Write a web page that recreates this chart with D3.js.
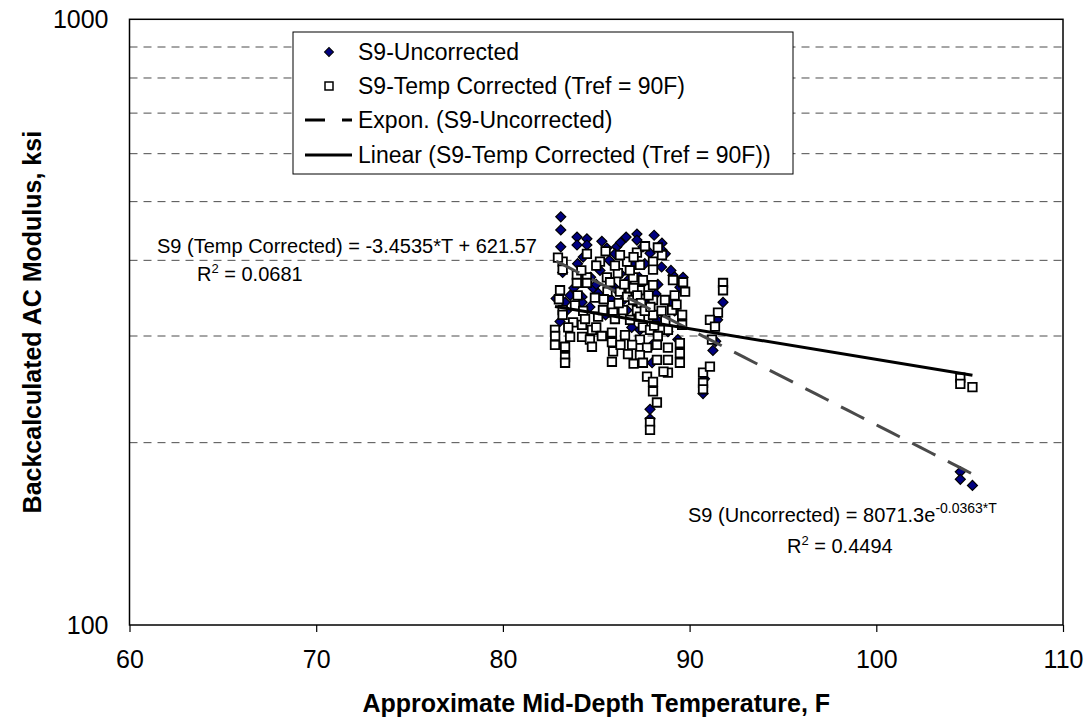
<!DOCTYPE html>
<html>
<head>
<meta charset="utf-8">
<script src="https://cdn.jsdelivr.net/npm/d3@7"></script>
<style>
  body { margin: 0; background: #fff; }
  svg text { font-family: Arial, "Liberation Sans", sans-serif; fill: #000; }
</style>
</head>
<body>
<div id="chart"></div>
<script>

// Axis Ticks And Gridlines
var xTicks = [60, 70, 80, 90, 100, 110];
var yTicks = [100, 1000];
var yGrid = [200, 300, 400, 500, 600, 700, 800, 900];

// S9-Uncorrected [Temperature F, Modulus ksi]
var uncorrected = [
  [83.1, 472], [83.1, 449], [83.1, 421], [83.97, 437], [84.5, 434], [83.97, 424], [84.5, 424],
  [85.57, 419], [86.1, 421], [86.6, 437], [87.18, 442], [87.18, 432], [86.0, 410], [87.5, 421],
  [87.88, 411], [88.52, 427], [88.52, 416], [83.2, 382], [82.85, 346], [83.6, 350], [84.24, 348],
  [84.24, 341], [85.1, 353], [84.83, 360], [84.66, 335], [83.33, 341], [83.06, 317], [86.7, 371],
  [87.5, 367], [87.99, 271], [87.88, 227], [87.88, 219], [89.11, 378], [89.65, 375], [89.06, 341],
  [91.79, 341], [91.25, 284], [90.72, 241], [89.48, 361], [86.65, 331], [88.25, 319], [88.84, 305],
  [89.37, 296], [91.5, 319], [91.4, 294], [87.34, 307], [88.04, 307], [85.8, 345], [86.3, 380],
  [87.0, 395], [85.2, 385], [84.0, 395], [88.2, 352], [87.6, 340], [86.0, 360], [84.7, 375],
  [83.8, 360], [88.5, 390], [89.0, 385], [85.5, 325], [86.9, 310], [83.4, 330], [88.0, 290],
  [85.3, 430], [86.3, 428], [88.1, 440], [87.6, 395], [85.7, 400], [84.3, 405], [86.5, 345],
  [87.3, 375], [88.3, 365], [89.2, 330], [90.8, 255], [88.7, 410], [85.0, 365],
  [104.5, 179], [104.5, 174], [105.15, 170]
];

// S9-Temp Corrected (Tref = 90F) [Temperature F, Modulus ksi]
var corrected = [
  [83.2, 398], [83.2, 386], [83.96, 378], [84.5, 375], [83.96, 367], [84.5, 367], [85.57, 375],
  [83.06, 357], [83.2, 331], [83.2, 325], [83.76, 316], [84.24, 313], [84.24, 299], [83.6, 299],
  [83.33, 288], [82.79, 290], [83.33, 277], [83.33, 271], [84.66, 296], [84.77, 288], [85.84, 337],
  [85.9, 328], [85.84, 304], [85.84, 293], [85.9, 283], [85.84, 272], [85.1, 323], [86.16, 381],
  [86.65, 398], [86.97, 375], [87.34, 393], [87.5, 371], [87.34, 357], [86.27, 355], [86.65, 348],
  [86.43, 331], [86.97, 344], [87.18, 331], [87.34, 323], [87.5, 310], [87.88, 307], [87.34, 296],
  [87.72, 287], [87.34, 279], [87.5, 271], [87.72, 257], [88.04, 252], [88.04, 243], [87.88, 216],
  [87.88, 210], [87.18, 412], [88.04, 398], [88.52, 408], [89.11, 371], [89.65, 368], [89.76, 355],
  [89.06, 331], [89.6, 325], [89.6, 313], [88.84, 307], [88.84, 287], [89.48, 292], [89.48, 281],
  [89.48, 271], [88.84, 274], [88.84, 261], [90.72, 261], [91.09, 267], [90.72, 251], [90.72, 245],
  [91.79, 367], [91.79, 357], [91.52, 328], [91.09, 319], [91.36, 311], [91.2, 296], [88.04, 386],
  [88.04, 364], [88.04, 344], [88.04, 325], [88.25, 290], [88.25, 274], [88.25, 233], [85.2, 398],
  [85.74, 368], [84.93, 347], [85.36, 331], [86.81, 319], [86.54, 301], [86.92, 290], [88.41, 307],
  [82.95, 404], [84.77, 307], [82.79, 307], [83.86, 337], [86.27, 408], [87.61, 422], [88.68, 344],
  [86.81, 360], [84.5, 410], [85.5, 414],
  [84.0, 350], [84.3, 330], [85.0, 310], [85.3, 300], [85.6, 355], [86.0, 320], [86.2, 340],
  [86.5, 365], [86.8, 385], [87.0, 360], [87.2, 350], [87.4, 340], [87.6, 330], [87.8, 350],
  [87.9, 335], [88.1, 312], [88.3, 300], [88.5, 330], [88.7, 318], [89.2, 350], [89.3, 338],
  [85.0, 392], [86.0, 392], [87.0, 405], [88.3, 420], [84.2, 385], [83.5, 310], [82.8, 300],
  [86.3, 290], [86.7, 280], [87.0, 270], [88.6, 262], [85.4, 345], [84.4, 320], [83.0, 345],
  [104.5, 256], [104.5, 250], [105.15, 247]
];

// Trendline Coefficients Shown On The Chart
var expA = 8071.3, expB = -0.0363;
var linM = -3.4535, linC = 621.57;

var legendLabels = [
  "S9-Uncorrected",
  "S9-Temp Corrected (Tref = 90F)",
  "Expon. (S9-Uncorrected)",
  "Linear (S9-Temp Corrected (Tref = 90F))"
];

var W = 1091, H = 725;
var plotL = 129.5, plotR = 1063, plotT = 19.3, plotB = 625;

var svg = d3.select("#chart").append("svg")
  .attr("width", W)
  .attr("height", H);

var x = d3.scaleLinear().domain([60, 110]).range([plotL, plotR]);
var y = d3.scaleLog().domain([100, 1000]).range([plotB, plotT]);

// Dashed Gridlines
svg.append("g").selectAll("line")
  .data(yGrid)
  .enter()
  .append("line")
  .attr("x1", plotL)
  .attr("x2", plotR)
  .attr("y1", function(d) { return y(d); })
  .attr("y2", function(d) { return y(d); })
  .attr("stroke", "#4d4d4d")
  .attr("stroke-width", 1)
  .attr("stroke-dasharray", "8,6");

// X Axis
var xAxis = svg.append("g")
  .attr("transform", "translate(0," + plotB + ")")
  .call(d3.axisBottom(x).tickValues(xTicks).tickSize(7).tickPadding(18).tickSizeOuter(0));
xAxis.select(".domain").remove();
xAxis.selectAll("line").attr("stroke", "#000").attr("stroke-width", 1.2);
xAxis.selectAll("text").style("font-size", "25px").attr("fill", "#000");

// Y Axis
var yAxis = svg.append("g")
  .attr("transform", "translate(" + plotL + ",0)")
  .call(d3.axisLeft(y).tickValues(yTicks).tickSize(0).tickPadding(21).tickFormat(d3.format("d")));
yAxis.select(".domain").remove();
yAxis.selectAll("text").style("font-size", "25px").attr("fill", "#000");

// Plot Border
svg.append("rect")
  .attr("x", plotL)
  .attr("y", plotT)
  .attr("width", plotR - plotL)
  .attr("height", plotB - plotT)
  .attr("fill", "none")
  .attr("stroke", "#000")
  .attr("stroke-width", 1.5);

// Uncorrected Diamonds Go Under The Squares
svg.append("g").selectAll("path")
  .data(uncorrected)
  .enter()
  .append("path")
  .attr("d", d3.symbol(d3.symbolSquare, 50))
  .attr("transform", function(d) { return "translate(" + x(d[0]) + "," + y(d[1]) + ") rotate(45)"; })
  .attr("fill", "#000080")
  .attr("stroke", "#000")
  .attr("stroke-width", 1.2);

svg.append("g").selectAll("path")
  .data(corrected)
  .enter()
  .append("path")
  .attr("d", d3.symbol(d3.symbolSquare, 72))
  .attr("transform", function(d) { return "translate(" + x(d[0]) + "," + y(d[1]) + ")"; })
  .attr("fill", "#fff")
  .attr("stroke", "#000")
  .attr("stroke-width", 1.8);

// Trendlines Over The Data Range
var uExt = d3.extent(uncorrected, function(d) { return d[0]; });
var cExt = d3.extent(corrected, function(d) { return d[0]; });

var expLine = d3.range(uExt[0], uExt[1] + 0.01, (uExt[1] - uExt[0]) / 40).map(function(t) {
  return [t, expA * Math.exp(expB * t)];
});
var linLine = [cExt[0], cExt[1]].map(function(t) { return [t, linM * t + linC]; });

var line = d3.line()
  .x(function(d) { return x(d[0]); })
  .y(function(d) { return y(d[1]); });

svg.append("path")
  .attr("d", line(expLine))
  .attr("fill", "none")
  .attr("stroke", "#4a4a4a")
  .attr("stroke-width", 3)
  .attr("stroke-dasharray", "26,14");

svg.append("path")
  .attr("d", line(linLine))
  .attr("fill", "none")
  .attr("stroke", "#000")
  .attr("stroke-width", 3);

// Trendline Equations
var eq1 = svg.append("text").attr("x", 157).attr("y", 253).style("font-size", "20px");
eq1.text("S9 (Temp Corrected) = -3.4535*T + 621.57");
var r1 = svg.append("text").attr("x", 197).attr("y", 281).style("font-size", "20px");
r1.append("tspan").text("R");
r1.append("tspan").attr("dy", -8).style("font-size", "13px").text("2");
r1.append("tspan").attr("dy", 8).text(" = 0.0681");

var eq2 = svg.append("text").attr("x", 688).attr("y", 522).style("font-size", "20px");
eq2.append("tspan").text("S9 (Uncorrected) = 8071.3e");
eq2.append("tspan").attr("dy", -9).style("font-size", "14px").text("-0.0363*T");
var r2 = svg.append("text").attr("x", 787).attr("y", 553).style("font-size", "20px");
r2.append("tspan").text("R");
r2.append("tspan").attr("dy", -8).style("font-size", "13px").text("2");
r2.append("tspan").attr("dy", 8).text(" = 0.4494");

// Legend
var legend = svg.append("g");
legend.append("rect")
  .attr("x", 293)
  .attr("y", 32)
  .attr("width", 500)
  .attr("height", 142)
  .attr("fill", "#fff")
  .attr("stroke", "#000")
  .attr("stroke-width", 1);

var rowY = [52, 86, 120, 155];

legend.append("path")
  .attr("d", d3.symbol(d3.symbolSquare, 40))
  .attr("transform", "translate(329," + rowY[0] + ") rotate(45)")
  .attr("fill", "#000080")
  .attr("stroke", "#000");

legend.append("path")
  .attr("d", d3.symbol(d3.symbolSquare, 64))
  .attr("transform", "translate(329," + rowY[1] + ")")
  .attr("fill", "#fff")
  .attr("stroke", "#000")
  .attr("stroke-width", 1.5);

legend.append("line")
  .attr("x1", 305).attr("x2", 352)
  .attr("y1", rowY[2]).attr("y2", rowY[2])
  .attr("stroke", "#000")
  .attr("stroke-width", 3)
  .attr("stroke-dasharray", "20,17");

legend.append("line")
  .attr("x1", 305).attr("x2", 352)
  .attr("y1", rowY[3]).attr("y2", rowY[3])
  .attr("stroke", "#000")
  .attr("stroke-width", 3);

legend.selectAll("text.lab")
  .data(legendLabels)
  .enter()
  .append("text")
  .attr("class", "lab")
  .attr("x", 358)
  .attr("y", function(d, i) { return rowY[i] + 8; })
  .style("font-size", "23px")
  .text(function(d) { return d; });

// Axis Titles
svg.append("text")
  .attr("x", (plotL + plotR) / 2)
  .attr("y", 712)
  .attr("text-anchor", "middle")
  .style("font-size", "25px")
  .style("font-weight", "bold")
  .text("Approximate Mid-Depth Temperature, F");

svg.append("text")
  .attr("transform", "translate(41," + ((plotT + plotB) / 2) + ") rotate(-90)")
  .attr("text-anchor", "middle")
  .style("font-size", "25px")
  .style("font-weight", "bold")
  .text("Backcalculated AC Modulus, ksi");

</script>
</body>
</html>
